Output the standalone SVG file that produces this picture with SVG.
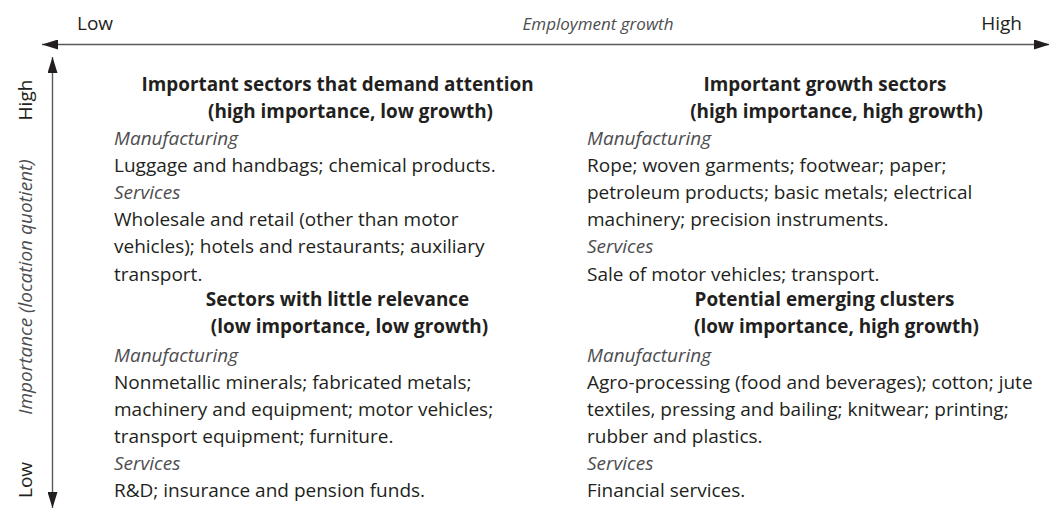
<svg xmlns="http://www.w3.org/2000/svg" width="1049" height="509" viewBox="0 0 1049 509">
<style>
text{font-family:"Open Sans","Liberation Sans",sans-serif;fill:#231f20;font-size:19px}
.t{font-weight:bold;text-anchor:middle;font-size:18.9px}
.i{font-style:italic;fill:#4d4d4f}
.ax{font-size:19px}
.eg{font-size:17px}
.axl{stroke:#58595b;stroke-width:1.4;fill:none}
</style>
<defs>
<marker id="ah" viewBox="0 0 16 10" refX="16" refY="5" markerWidth="16" markerHeight="10" markerUnits="userSpaceOnUse" orient="auto-start-reverse">
<path d="M0,0 L16,5 L0,10 z" fill="#231f20"/>
</marker>
</defs>
<g id="connectors">
<line class="axl" x1="42" y1="44.5" x2="1050" y2="44.5" marker-start="url(#ah)" marker-end="url(#ah)"/>
<line class="axl" x1="52.5" y1="57" x2="52.5" y2="508" marker-start="url(#ah)" marker-end="url(#ah)"/>
</g>
<g id="axis-labels">
<text class="ax" x="77" y="30">Low</text>
<text class="i eg" x="598" y="30" text-anchor="middle">Employment growth</text>
<text class="ax" x="1022" y="30" text-anchor="end">High</text>
<text class="ax" transform="translate(32,100) rotate(-90)" text-anchor="middle">High</text>
<text class="ax i" transform="translate(32,287) rotate(-90)" text-anchor="middle">Importance (location quotient)</text>
<text class="ax" transform="translate(32,480) rotate(-90)" text-anchor="middle">Low</text>
</g>
<g id="q-high-importance-low-growth">
<text class="t" x="337.5" y="91">Important sectors that demand attention</text>
<text class="t" x="350.5" y="118.1">(high importance, low growth)</text>
<text class="i" x="114" y="145.1">Manufacturing</text>
<text x="114" y="172.2">Luggage and handbags; chemical products.</text>
<text class="i" x="114" y="199.3">Services</text>
<text x="114" y="226.4">Wholesale and retail (other than motor</text>
<text x="114" y="253.4">vehicles); hotels and restaurants; auxiliary</text>
<text x="114" y="280.5">transport.</text>
</g>
<g id="q-high-importance-high-growth">
<text class="t" x="825" y="91">Important growth sectors</text>
<text class="t" x="836.5" y="118.1">(high importance, high growth)</text>
<text class="i" x="587" y="145.1">Manufacturing</text>
<text x="587" y="172.2">Rope; woven garments; footwear; paper;</text>
<text x="587" y="199.3">petroleum products; basic metals; electrical</text>
<text x="587" y="226.4">machinery; precision instruments.</text>
<text class="i" x="587" y="253.4">Services</text>
<text x="587" y="280.5">Sale of motor vehicles; transport.</text>
</g>
<g id="q-low-importance-low-growth">
<text class="t" x="337.5" y="306">Sectors with little relevance</text>
<text class="t" x="349.5" y="333">(low importance, low growth)</text>
<text class="i" x="114" y="361.7">Manufacturing</text>
<text x="114" y="388.8">Nonmetallic minerals; fabricated metals;</text>
<text x="114" y="415.8">machinery and equipment; motor vehicles;</text>
<text x="114" y="442.9">transport equipment; furniture.</text>
<text class="i" x="114" y="470">Services</text>
<text x="114" y="497">R&amp;D; insurance and pension funds.</text>
</g>
<g id="q-low-importance-high-growth">
<text class="t" x="824.5" y="306">Potential emerging clusters</text>
<text class="t" x="836.5" y="333">(low importance, high growth)</text>
<text class="i" x="587" y="361.7">Manufacturing</text>
<text x="587" y="388.8">Agro-processing (food and beverages); cotton; jute</text>
<text x="587" y="415.8">textiles, pressing and bailing; knitwear; printing;</text>
<text x="587" y="442.9">rubber and plastics.</text>
<text class="i" x="587" y="470">Services</text>
<text x="587" y="497">Financial services.</text>
</g>
</svg>
